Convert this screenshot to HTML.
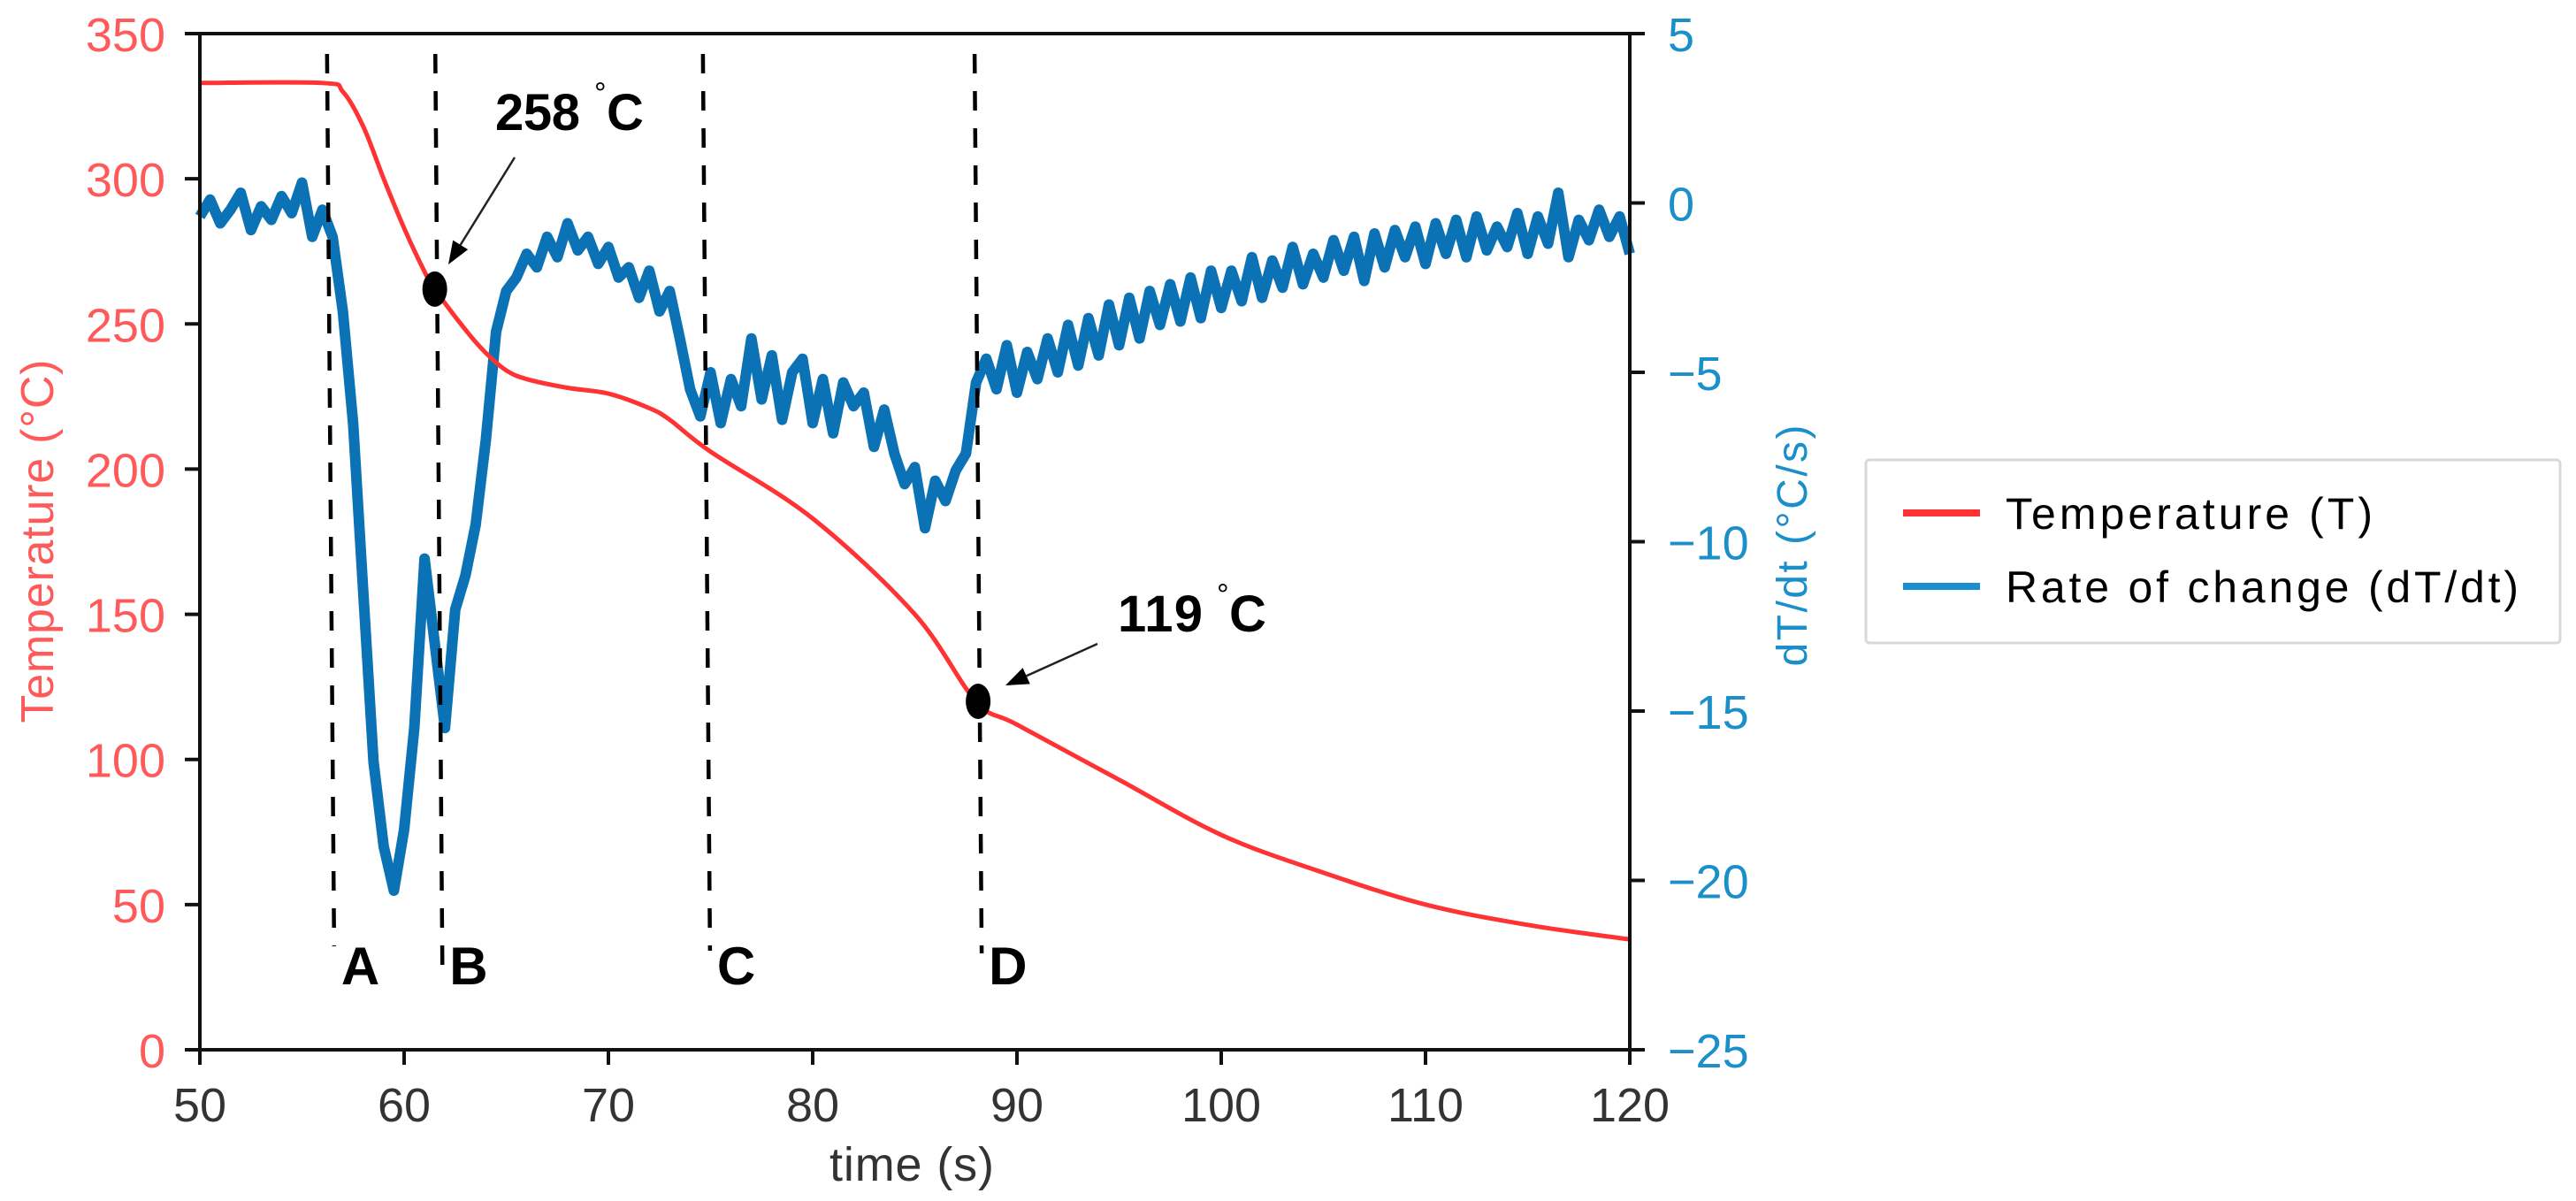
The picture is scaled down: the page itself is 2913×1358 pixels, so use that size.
<!DOCTYPE html>
<html><head><meta charset="utf-8"><style>
html,body{margin:0;padding:0;background:#fff;}
svg{display:block;font-family:"Liberation Sans",sans-serif;}
</style></head><body>
<svg id="chart" width="2913" height="1358" viewBox="0 0 2913 1358" xmlns="http://www.w3.org/2000/svg">
<g id="grid-layer"></g>
<g id="series-layer"></g>
<g id="axis-layer"></g>
<g id="annot-layer"></g>
<g>
  <rect x="2110" y="520" width="785" height="207" fill="#fff" stroke="#d8d8d8" stroke-width="3" rx="4"/>
  <line x1="2152" y1="580" x2="2239" y2="580" stroke="#ff3333" stroke-width="8"/>
  <text x="2268" y="598" font-size="50" textLength="415" fill="#000">Temperature (T)</text>
  <line x1="2152" y1="663" x2="2239" y2="663" stroke="#1a8fd0" stroke-width="8"/>
  <text x="2268" y="681" font-size="50" textLength="580" fill="#000">Rate of change (dT/dt)</text>
</g>
</svg>
<script>
// ---- data ----
const xTicks = [50, 60, 70, 80, 90, 100, 110, 120];
const leftTicks = [0, 50, 100, 150, 200, 250, 300, 350];
const rightTicks = [5, 0, -5, -10, -15, -20, -25];
const tempTime = [50, 56, 57, 58, 59, 60, 61, 61.5, 63, 64, 65, 66, 68, 70, 72, 73, 75, 80, 85, 88, 90, 95, 100, 105, 110, 115, 120];
const tempValues = [333, 333, 330, 318, 300, 283, 268, 262, 248, 240, 234, 231, 228, 226, 221, 217, 206, 183, 150, 120, 112, 93, 74, 61, 50, 43, 38];
const rateStart = 50;
const rateStep = 0.5;
const rateValues = [
 -0.4,0.1,-0.6,-0.2,0.3,-0.8,-0.1,-0.5,0.2,-0.3,0.6,-1.0,-0.2,
 -1.0,-3.2,-6.5,-11.5,-16.5,-19.0,-20.3,-18.5,-15.5,-10.5,-13.0,-15.5,-12.0,-11.0,-9.5,-7.0,-3.8,-2.6,-2.2,-1.5,-1.9,-1.0,-1.6,-0.6,-1.4,-1.0,-1.8,-1.3,-2.2,-1.9,-2.8,-2.0,-3.2,-2.6,-4.0,-5.5,-6.3,-5.0,-6.5,-5.2,-6.0,-4.0,-5.8,-4.5,-6.4,-5.0,-4.6,-6.5,-5.2,-6.8,-5.3,-6.0,-5.6,-7.2,-6.1,-7.4,-8.3,-7.8,-9.6,-8.2,-8.8,-7.9,-7.4,-5.3,-4.6,-5.5,-4.2,-5.6,-4.4,-5.2,-4.0,-5.0,-3.6,-4.8,-3.4,-4.5,-3.0,-4.2,-2.8,-4.0,-2.6,-3.6,-2.4,-3.5,-2.2,-3.4,-2.0,-3.1,-2.0,-2.9,-1.6,-2.8,-1.7,-2.5,-1.3,-2.4,-1.5,-2.2,-1.1,-2.0,-1.0,-2.3,-0.9,-1.9,-0.8,-1.6,-0.7,-1.8,-0.6,-1.5,-0.5,-1.6,-0.4,-1.4,-0.7,-1.3,-0.3,-1.5,-0.4,-1.2,0.3,-1.6,-0.5,-1.1,-0.2,-1.0,-0.4,-1.5];
const phaseLabels = ["A", "B", "C", "D"];
const phaseTimes = [56.4, 61.7, 74.8, 88.1];
const markerTimes = [61.5, 88.1];
const markerTemps = [262, 120];
const markerLabels = ["258", "119"];

// ---- axes ----
const L = 226, R = 1843, T = 38, B = 1187;
const xs = t => L + (t - 50) / 70 * (R - L);
const yl = v => B - v / 350 * (B - T);
const yr = v => B - (v + 25) / 30 * (B - T);
const NS = "http://www.w3.org/2000/svg";
function mk(tag, attrs, parent, txt) {
  const e = document.createElementNS(NS, tag);
  for (const k in attrs) e.setAttribute(k, attrs[k]);
  if (txt !== undefined) e.textContent = txt;
  parent.appendChild(e);
  return e;
}
const axisG = document.getElementById('axis-layer');
const seriesG = document.getElementById('series-layer');
const annG = document.getElementById('annot-layer');

phaseTimes.forEach((t, i) => {
  const bottoms = [1070, 1095, 1075, 1078];
  const ln = mk('line', {x1: xs(t) - 4, y1: 61, x2: xs(t) + 4, y2: bottoms[i], stroke: '#000', 'stroke-width': 4.5, 'stroke-dasharray': '22 20'}, annG);
  
  
  const lb = mk('text', {x: xs(t) + 12, y: 1113, 'font-size': 60, 'font-weight': 'bold', fill: '#000'}, annG, phaseLabels[i]);
  
  
});

let d = '';
rateValues.forEach((v, i) => {
  d += (i ? 'L' : 'M') + xs(rateStart + i * rateStep).toFixed(1) + ',' + yr(v).toFixed(1);
});
const rp = mk('path', {d: d, fill: 'none', stroke: '#0b72b5', 'stroke-width': 12, 'stroke-linejoin': 'round'}, seriesG);



const pts = tempTime.map((t, i) => [xs(t), yl(tempValues[i])]);
let td = 'M' + pts[0][0] + ',' + pts[0][1];
for (let i = 0; i < pts.length - 1; i++) {
  const p0 = pts[Math.max(0, i - 1)], p1 = pts[i], p2 = pts[i + 1], p3 = pts[Math.min(pts.length - 1, i + 2)];
  const c1 = [p1[0] + (p2[0] - p0[0]) / 6, p1[1] + (p2[1] - p0[1]) / 6];
  const c2 = [p2[0] - (p3[0] - p1[0]) / 6, p2[1] - (p3[1] - p1[1]) / 6];
  td += 'C' + c1.join(',') + ' ' + c2.join(',') + ' ' + p2.join(',');
}
const tp = mk('path', {d: td, fill: 'none', stroke: '#ff3333', 'stroke-width': 5}, seriesG);



const arrowFrom = [[582, 178], [1241, 728]];
const arrowTo = [[507, 299], [1137, 775]];
const textPos = [[560, 147], [1264, 714]];
markerTimes.forEach((t, i) => {
  const c = mk('ellipse', {cx: xs(t), cy: yl(markerTemps[i]), rx: 14, ry: 20, fill: '#000'}, annG);
  
  
  const [fx, fy] = arrowFrom[i], [tx, ty] = arrowTo[i];
  const ang = Math.atan2(ty - fy, tx - fx);
  const hl = 26, hw = 10;
  const bx = tx - hl * Math.cos(ang), by = ty - hl * Math.sin(ang);
  const ar = mk('line', {x1: fx, y1: fy, x2: bx, y2: by, stroke: '#222', 'stroke-width': 2.5}, annG);
  
  
  const hd = mk('polygon', {points: tx + ',' + ty + ' ' + (bx + hw * Math.sin(ang)) + ',' + (by - hw * Math.cos(ang)) + ' ' + (bx - hw * Math.sin(ang)) + ',' + (by + hw * Math.cos(ang)), fill: '#000'}, annG);
  
  
  const [px, py] = textPos[i];
  const g = mk('g', {}, annG);
  
  
  mk('text', {x: px, y: py, 'font-size': 58, 'font-weight': 'bold', textLength: 96, fill: '#000'}, g, markerLabels[i]);
  mk('text', {x: px + 112, y: py - 30, 'font-size': 34, fill: '#000'}, g, '°');
  mk('text', {x: px + 126, y: py, 'font-size': 58, 'font-weight': 'bold', textLength: 33, fill: '#000'}, g, 'C');
});

const fr = mk('rect', {x: L, y: T, width: R - L, height: B - T, fill: 'none', stroke: '#111', 'stroke-width': 4}, axisG);



xTicks.forEach(v => {
  const tk = mk('line', {x1: xs(v), y1: B, x2: xs(v), y2: B + 17, stroke: '#111', 'stroke-width': 4}, axisG);
  
  
  const lb = mk('text', {x: xs(v), y: 1268, 'font-size': 54, 'text-anchor': 'middle', fill: '#333'}, axisG, String(v));
  
  
});
leftTicks.forEach(v => {
  const tk = mk('line', {x1: L - 17, y1: yl(v), x2: L, y2: yl(v), stroke: '#111', 'stroke-width': 4}, axisG);
  
  
  const lb = mk('text', {x: 187, y: yl(v) + 20, 'font-size': 54, 'text-anchor': 'end', fill: '#ff5a5a'}, axisG, String(v));
  
  
});
rightTicks.forEach(v => {
  const tk = mk('line', {x1: R, y1: yr(v), x2: R + 17, y2: yr(v), stroke: '#111', 'stroke-width': 4}, axisG);
  
  
  const lb = mk('text', {x: 1886, y: yr(v) + 20, 'font-size': 54, fill: '#1a8fc9'}, axisG, v < 0 ? '\u2212' + Math.abs(v) : String(v));
  
  
});
const xt = mk('text', {x: 1031, y: 1335, 'font-size': 54, 'text-anchor': 'middle', fill: '#333', textLength: 186}, axisG, 'time (s)');


const ylt = mk('text', {x: 0, y: 0, 'font-size': 52, 'text-anchor': 'middle', fill: '#ff5a5a', textLength: 411, transform: 'translate(60,612) rotate(-90)'}, axisG, 'Temperature (°C)');


const yrt = mk('text', {x: 0, y: 0, 'font-size': 48, 'text-anchor': 'middle', fill: '#1a8fc9', textLength: 273, transform: 'translate(2043,617) rotate(-90)'}, axisG, 'dT/dt (°C/s)');


</script>
</body></html>
